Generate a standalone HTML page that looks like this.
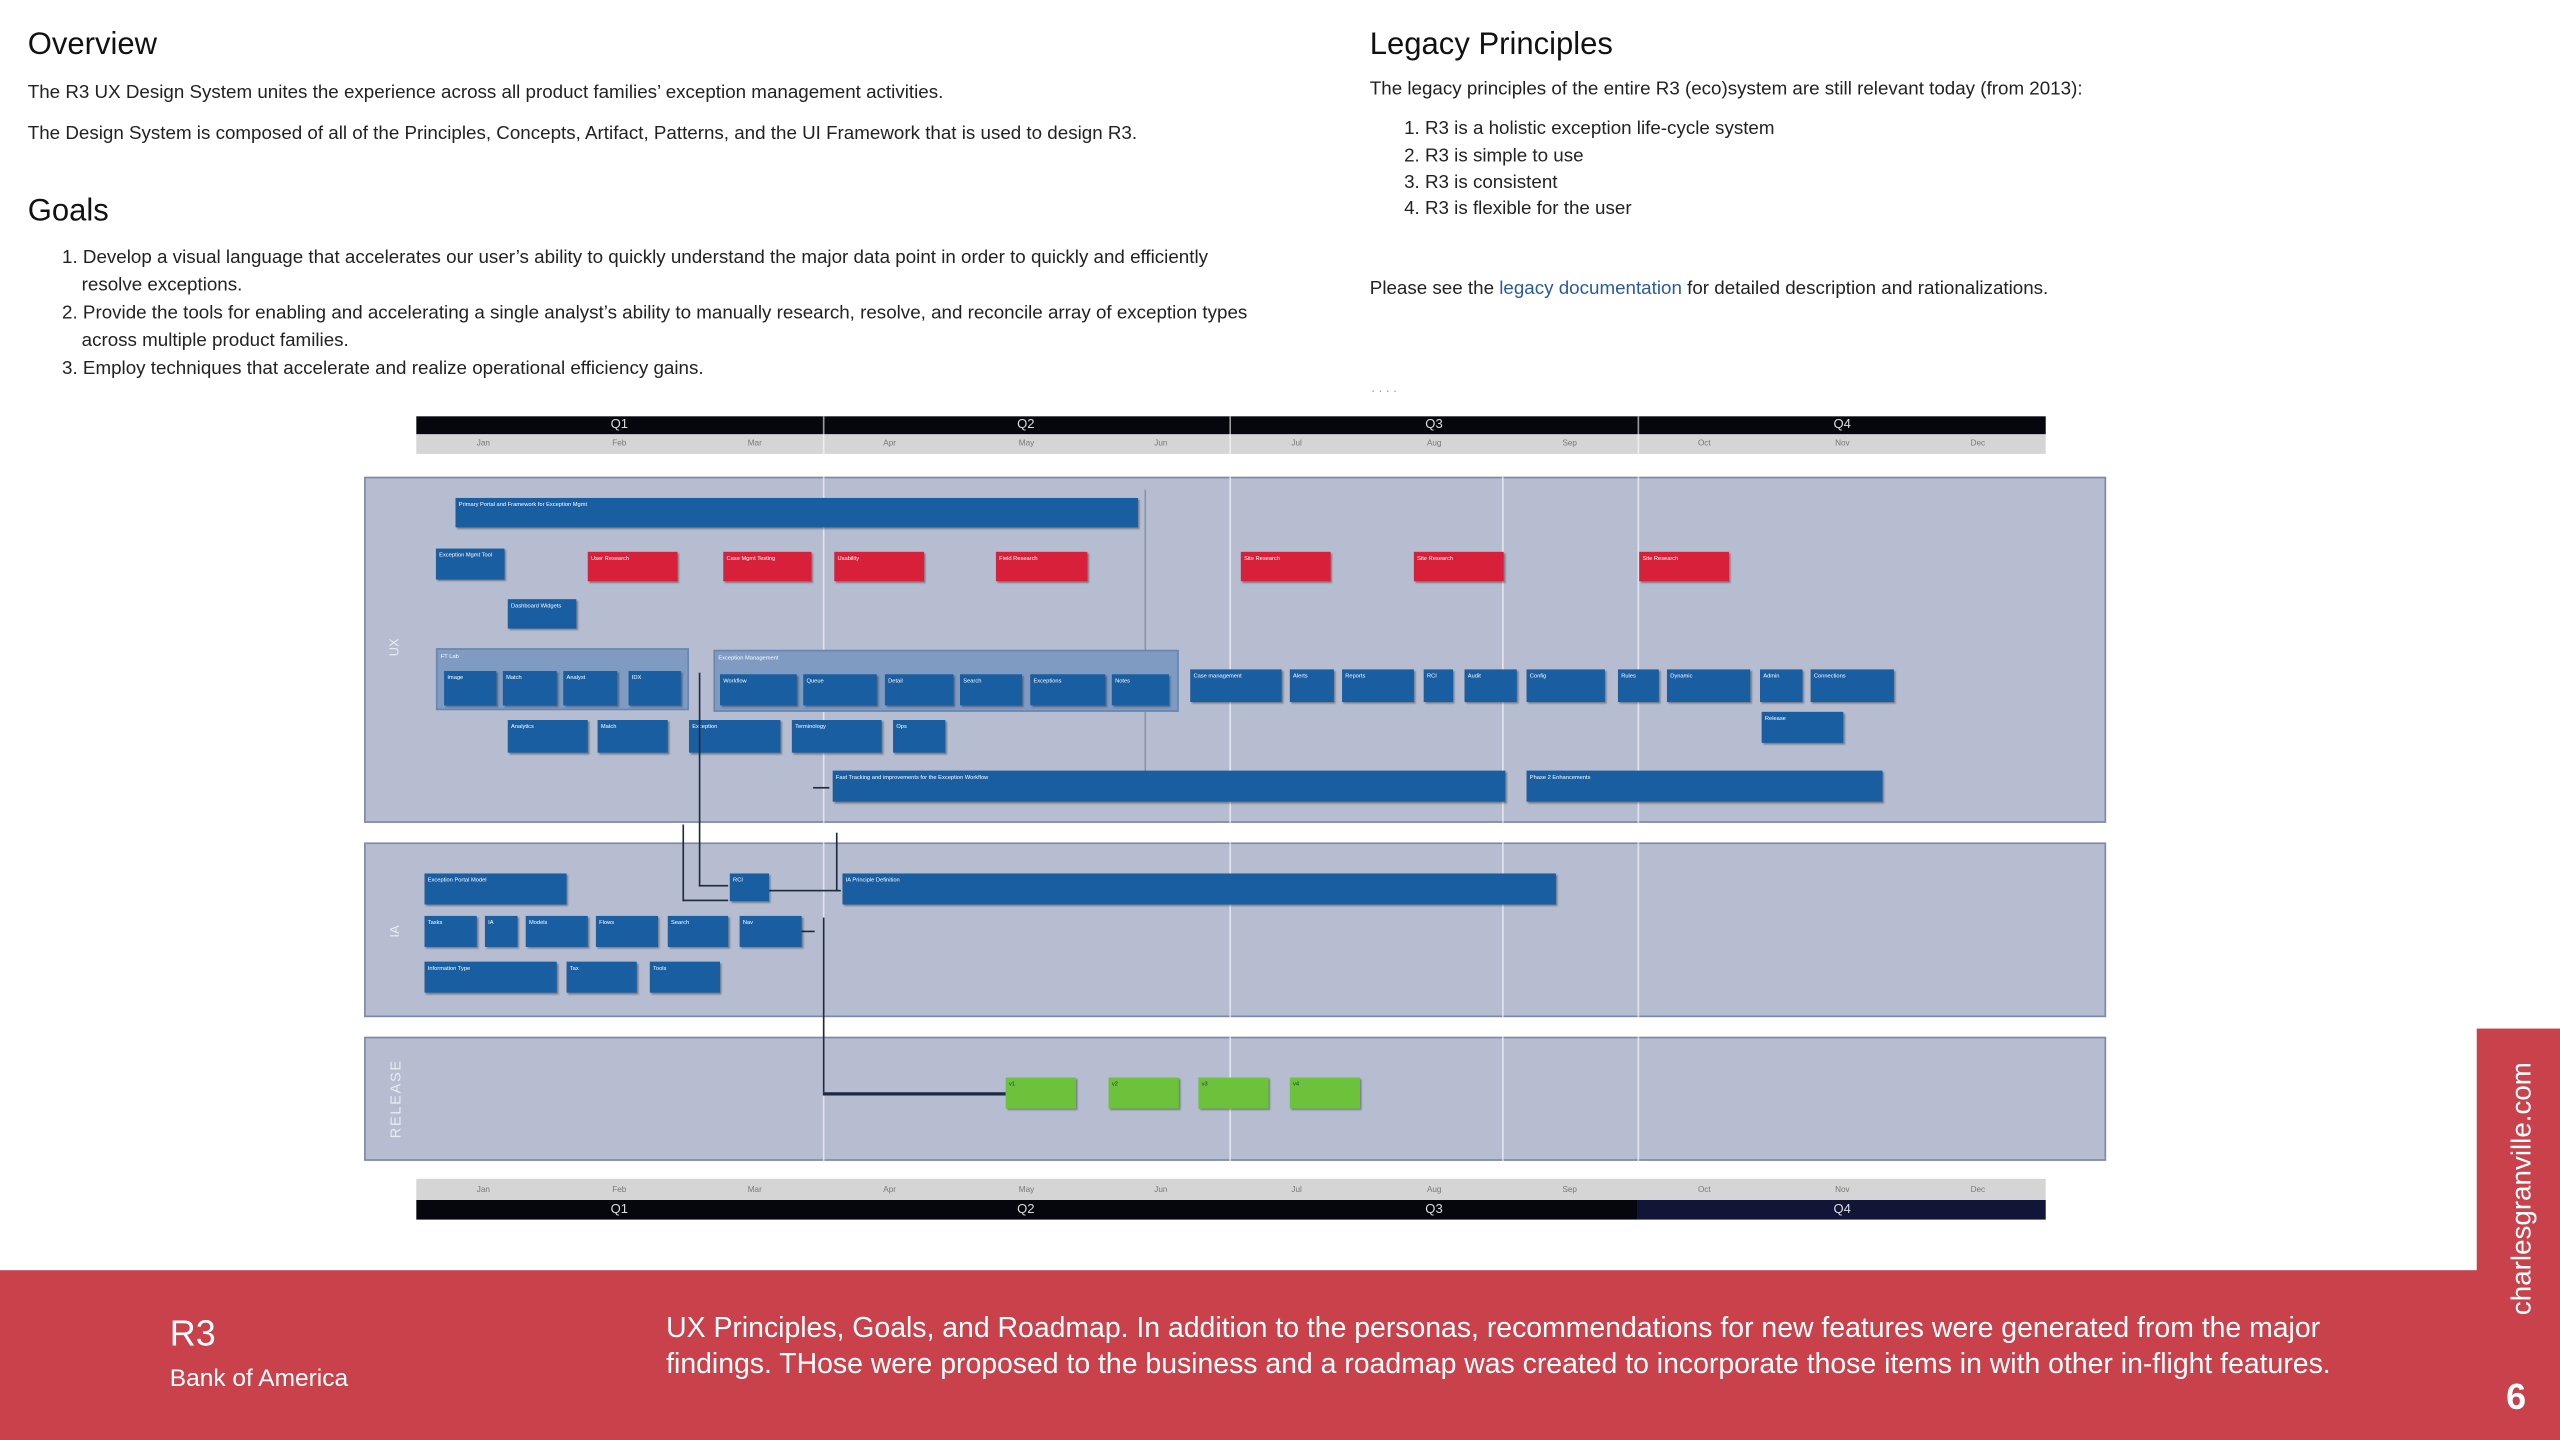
<!DOCTYPE html>
<html><head><meta charset="utf-8">
<style>
html,body{margin:0;padding:0;background:#fff;}
body{width:2560px;height:1440px;overflow:hidden;position:relative;}
#w{position:absolute;left:0;top:0;width:1568px;height:882px;transform:scale(1.632653);transform-origin:0 0;font-family:"Liberation Sans",Arial,sans-serif;color:#222;}
.a{position:absolute;white-space:nowrap;}
h2{position:absolute;margin:0;font-weight:normal;font-size:19px;color:#111;}
.t{position:absolute;font-size:11.5px;white-space:nowrap;color:#222;}
.b{position:absolute;background:#1a5ea2;box-shadow:1px 1px 1px rgba(0,0,0,.35);color:#fff;font-size:3.5px;padding:2px;box-sizing:border-box;overflow:hidden;line-height:4px;}
.r{background:#d8203a;}
.g{background:#6cc23a;color:#234;}
.lane{position:absolute;left:223px;width:1067px;background:#b6bdd0;border:1px solid #7e89a8;box-sizing:border-box;}
.grp{position:absolute;background:#7f9bc1;border:1px solid #6a86b0;box-sizing:border-box;font-size:3.5px;color:#fff;padding:2px;}
.ln{position:absolute;background:#1e2a40;}
.qb{position:absolute;height:11px;background:#05060e;}
.gr{position:absolute;height:12px;background:#d5d5d6;}
.ql{position:absolute;font-size:8px;color:#ddd;}
.ml{position:absolute;font-size:5px;color:#777;}
.vl{position:absolute;width:1px;background:rgba(255,255,255,.6);}
</style></head><body><div id="w">

<h2 style="left:17px;top:17px;">Overview</h2>
<div class="t" style="left:17px;top:51px;">The R3 UX Design System unites the experience across all product families’ exception management activities.</div>
<div class="t" style="left:17px;top:76px;">The Design System is composed of all of the Principles, Concepts, Artifact, Patterns, and the UI Framework that is used to design R3.</div>
<h2 style="left:17px;top:119px;">Goals</h2>
<div class="t" style="left:38px;top:152px;">1. Develop a visual language that accelerates our user’s ability to quickly understand the major data point in order to quickly and efficiently</div>
<div class="t" style="left:50px;top:169px;">resolve exceptions.</div>
<div class="t" style="left:38px;top:186px;">2. Provide the tools for enabling and accelerating a single analyst’s ability to manually research, resolve, and reconcile array of exception types</div>
<div class="t" style="left:50px;top:203px;">across multiple product families.</div>
<div class="t" style="left:38px;top:220px;">3. Employ techniques that accelerate and realize operational efficiency gains.</div>

<h2 style="left:839px;top:17px;">Legacy Principles</h2>
<div class="t" style="left:839px;top:49px;">The legacy principles of the entire R3 (eco)system are still relevant today (from 2013):</div>
<div class="t" style="left:860px;top:73px;">1. R3 is a holistic exception life-cycle system</div>
<div class="t" style="left:860px;top:90px;">2. R3 is simple to use</div>
<div class="t" style="left:860px;top:106px;">3. R3 is consistent</div>
<div class="t" style="left:860px;top:122px;">4. R3 is flexible for the user</div>
<div class="t" style="left:839px;top:171px;">Please see the <span style="color:#2a5a9e">legacy documentation</span> for detailed description and rationalizations.</div>
<div class="a" style="left:840px;top:233px;font-size:8px;color:#999;">. . . .</div>

<!-- top timeline -->
<div class="qb" style="left:255px;top:255px;width:998px;"></div>
<div class="gr" style="left:255px;top:266px;width:998px;"></div>
<div class="ql" style="left:374px;top:255px;">Q1</div><div class="ql" style="left:623px;top:255px;">Q2</div><div class="ql" style="left:873px;top:255px;">Q3</div><div class="ql" style="left:1123px;top:255px;">Q4</div>
<div class="ml" style="left:292px;top:269px;">Jan</div><div class="ml" style="left:375px;top:269px;">Feb</div><div class="ml" style="left:458px;top:269px;">Mar</div><div class="ml" style="left:541px;top:269px;">Apr</div><div class="ml" style="left:624px;top:269px;">May</div><div class="ml" style="left:707px;top:269px;">Jun</div><div class="ml" style="left:791px;top:269px;">Jul</div><div class="ml" style="left:874px;top:269px;">Aug</div><div class="ml" style="left:957px;top:269px;">Sep</div><div class="ml" style="left:1040px;top:269px;">Oct</div><div class="ml" style="left:1124px;top:269px;">Nov</div><div class="ml" style="left:1207px;top:269px;">Dec</div>

<!-- lanes -->
<div class="lane" style="top:292px;height:212px;"></div>
<div class="lane" style="top:516px;height:107px;"></div>
<div class="lane" style="top:635px;height:76px;"></div>
<div class="vl" style="left:504px;top:255px;height:492px;"></div>
<div class="vl" style="left:753px;top:255px;height:492px;"></div>
<div class="vl" style="left:1003px;top:255px;height:492px;"></div>
<div class="vl" style="left:920px;top:292px;height:420px;"></div>
<div class="a" style="left:701px;top:300px;width:1px;height:190px;background:rgba(60,70,100,.35);"></div>
<div class="a" style="left:236px;top:392px;font-size:8px;color:#e8ebf2;transform:rotate(-90deg);">UX</div>
<div class="a" style="left:238px;top:566px;font-size:8px;color:#e8ebf2;transform:rotate(-90deg);">IA</div>
<div class="a" style="left:218px;top:668px;font-size:9px;color:#e8ebf2;transform:rotate(-90deg);letter-spacing:1px;">RELEASE</div>

<!-- UX boxes -->
<div class="b" style="left:279px;top:305px;width:418px;height:18px;">Primary Portal and Framework for Exception Mgmt</div>
<div class="b" style="left:267px;top:336px;width:42px;height:19px;">Exception Mgmt Tool</div>
<div class="b r" style="left:360px;top:338px;width:55px;height:18px;">User Research</div>
<div class="b r" style="left:443px;top:338px;width:54px;height:18px;">Case Mgmt Testing</div>
<div class="b r" style="left:511px;top:338px;width:55px;height:18px;">Usability</div>
<div class="b r" style="left:610px;top:338px;width:56px;height:18px;">Field Research</div>
<div class="b r" style="left:760px;top:338px;width:55px;height:18px;">Site Research</div>
<div class="b r" style="left:866px;top:338px;width:55px;height:18px;">Site Research</div>
<div class="b r" style="left:1004px;top:338px;width:55px;height:18px;">Site Research</div>
<div class="b" style="left:311px;top:367px;width:42px;height:18px;">Dashboard Widgets</div>

<div class="grp" style="left:267px;top:397px;width:155px;height:38px;">FT Lab</div>
<div class="b" style="left:272px;top:411px;width:32px;height:21px;">Image</div>
<div class="b" style="left:308px;top:411px;width:33px;height:21px;">Match</div>
<div class="b" style="left:345px;top:411px;width:33px;height:21px;">Analyst</div>
<div class="b" style="left:385px;top:411px;width:32px;height:21px;">IDX</div>
<div class="grp" style="left:437px;top:398px;width:285px;height:38px;">Exception Management</div>
<div class="b" style="left:441px;top:413px;width:47px;height:19px;">Workflow</div>
<div class="b" style="left:492px;top:413px;width:45px;height:19px;">Queue</div>
<div class="b" style="left:542px;top:413px;width:42px;height:19px;">Detail</div>
<div class="b" style="left:588px;top:413px;width:38px;height:19px;">Search</div>
<div class="b" style="left:631px;top:413px;width:46px;height:19px;">Exceptions</div>
<div class="b" style="left:681px;top:413px;width:35px;height:19px;">Notes</div>
<div class="b" style="left:729px;top:410px;width:56px;height:20px;">Case management</div>
<div class="b" style="left:790px;top:410px;width:27px;height:20px;">Alerts</div>
<div class="b" style="left:822px;top:410px;width:44px;height:20px;">Reports</div>
<div class="b" style="left:872px;top:410px;width:18px;height:20px;">RCI</div>
<div class="b" style="left:897px;top:410px;width:32px;height:20px;">Audit</div>
<div class="b" style="left:935px;top:410px;width:48px;height:20px;">Config</div>
<div class="b" style="left:991px;top:410px;width:25px;height:20px;">Rules</div>
<div class="b" style="left:1021px;top:410px;width:51px;height:20px;">Dynamic</div>
<div class="b" style="left:1078px;top:410px;width:26px;height:20px;">Admin</div>
<div class="b" style="left:1109px;top:410px;width:51px;height:20px;">Connections</div>
<div class="b" style="left:1079px;top:436px;width:50px;height:19px;">Release</div>
<div class="b" style="left:311px;top:441px;width:49px;height:20px;">Analytics</div>
<div class="b" style="left:366px;top:441px;width:43px;height:20px;">Match</div>
<div class="b" style="left:422px;top:441px;width:56px;height:20px;">Exception</div>
<div class="b" style="left:485px;top:441px;width:55px;height:20px;">Terminology</div>
<div class="b" style="left:547px;top:441px;width:32px;height:20px;">Ops</div>
<div class="b" style="left:510px;top:472px;width:412px;height:19px;">Fast Tracking and improvements for the Exception Workflow</div>
<div class="b" style="left:935px;top:472px;width:218px;height:19px;">Phase 2 Enhancements</div>
<div class="ln" style="left:498px;top:482px;width:10px;height:1px;"></div>

<!-- connectors -->
<div class="ln" style="left:428px;top:412px;width:1px;height:131px;"></div>
<div class="ln" style="left:428px;top:542px;width:18px;height:1px;"></div>
<div class="ln" style="left:418px;top:551px;width:28px;height:1px;"></div>
<div class="ln" style="left:418px;top:505px;width:1px;height:47px;"></div>
<div class="ln" style="left:512px;top:510px;width:1px;height:36px;"></div>
<div class="ln" style="left:471px;top:545px;width:44px;height:1px;"></div>
<div class="ln" style="left:504px;top:562px;width:1px;height:107px;"></div>
<div class="ln" style="left:504px;top:669px;width:112px;height:2px;"></div>
<div class="ln" style="left:491px;top:570px;width:8px;height:1px;"></div>

<!-- IA boxes -->
<div class="b" style="left:260px;top:535px;width:87px;height:19px;">Exception Portal Model</div>
<div class="b" style="left:447px;top:535px;width:24px;height:17px;">RCI</div>
<div class="b" style="left:516px;top:535px;width:437px;height:19px;">IA Principle Definition</div>
<div class="b" style="left:260px;top:561px;width:32px;height:19px;">Tasks</div>
<div class="b" style="left:297px;top:561px;width:20px;height:19px;">IA</div>
<div class="b" style="left:322px;top:561px;width:38px;height:19px;">Models</div>
<div class="b" style="left:365px;top:561px;width:38px;height:19px;">Flows</div>
<div class="b" style="left:409px;top:561px;width:37px;height:19px;">Search</div>
<div class="b" style="left:453px;top:561px;width:38px;height:19px;">Nav</div>
<div class="b" style="left:260px;top:589px;width:81px;height:19px;">Information Type</div>
<div class="b" style="left:347px;top:589px;width:43px;height:19px;">Tax</div>
<div class="b" style="left:398px;top:589px;width:43px;height:19px;">Tools</div>

<!-- Release -->
<div class="b g" style="left:616px;top:660px;width:43px;height:19px;">v1</div>
<div class="b g" style="left:679px;top:660px;width:43px;height:19px;">v2</div>
<div class="b g" style="left:734px;top:660px;width:43px;height:19px;">v3</div>
<div class="b g" style="left:790px;top:660px;width:43px;height:19px;">v4</div>

<!-- bottom timeline -->
<div class="gr" style="left:255px;top:722px;width:998px;height:13px;"></div>
<div class="ml" style="left:292px;top:726px;">Jan</div><div class="ml" style="left:375px;top:726px;">Feb</div><div class="ml" style="left:458px;top:726px;">Mar</div><div class="ml" style="left:541px;top:726px;">Apr</div><div class="ml" style="left:624px;top:726px;">May</div><div class="ml" style="left:707px;top:726px;">Jun</div><div class="ml" style="left:791px;top:726px;">Jul</div><div class="ml" style="left:874px;top:726px;">Aug</div><div class="ml" style="left:957px;top:726px;">Sep</div><div class="ml" style="left:1040px;top:726px;">Oct</div><div class="ml" style="left:1124px;top:726px;">Nov</div><div class="ml" style="left:1207px;top:726px;">Dec</div>
<div class="qb" style="left:255px;top:735px;width:748px;height:12px;"></div>
<div class="qb" style="left:1003px;top:735px;width:250px;height:12px;background:#111638;"></div>
<div class="ql" style="left:374px;top:736px;">Q1</div><div class="ql" style="left:623px;top:736px;">Q2</div><div class="ql" style="left:873px;top:736px;">Q3</div><div class="ql" style="left:1123px;top:736px;">Q4</div>

<!-- footer -->
<div class="a" style="left:0;top:778px;width:1568px;height:104px;background:#c8414b;"></div>
<div class="a" style="left:1517px;top:630px;width:51px;height:252px;background:#c8414b;"></div>
<div class="a" style="left:1460px;top:718px;width:170px;font-size:17px;color:#fff;transform:rotate(-90deg);text-align:center;">charlesgranville.com</div>
<div class="a" style="left:1535px;top:843px;font-size:22px;font-weight:bold;color:#fff;">6</div>
<div class="a" style="left:104px;top:804px;font-size:22px;color:#fff;font-weight:300;">R3</div>
<div class="a" style="left:104px;top:836px;font-size:15px;color:#fff;">Bank of America</div>
<div class="a" style="left:408px;top:802px;font-size:17.4px;line-height:22px;color:#fff;white-space:nowrap;width:1100px;">UX Principles, Goals, and Roadmap. In addition to the personas, recommendations for new features were generated from the major<br>findings. THose were proposed to the business and a roadmap was created to incorporate those items in with other in-flight features.</div>

</div></body></html>
